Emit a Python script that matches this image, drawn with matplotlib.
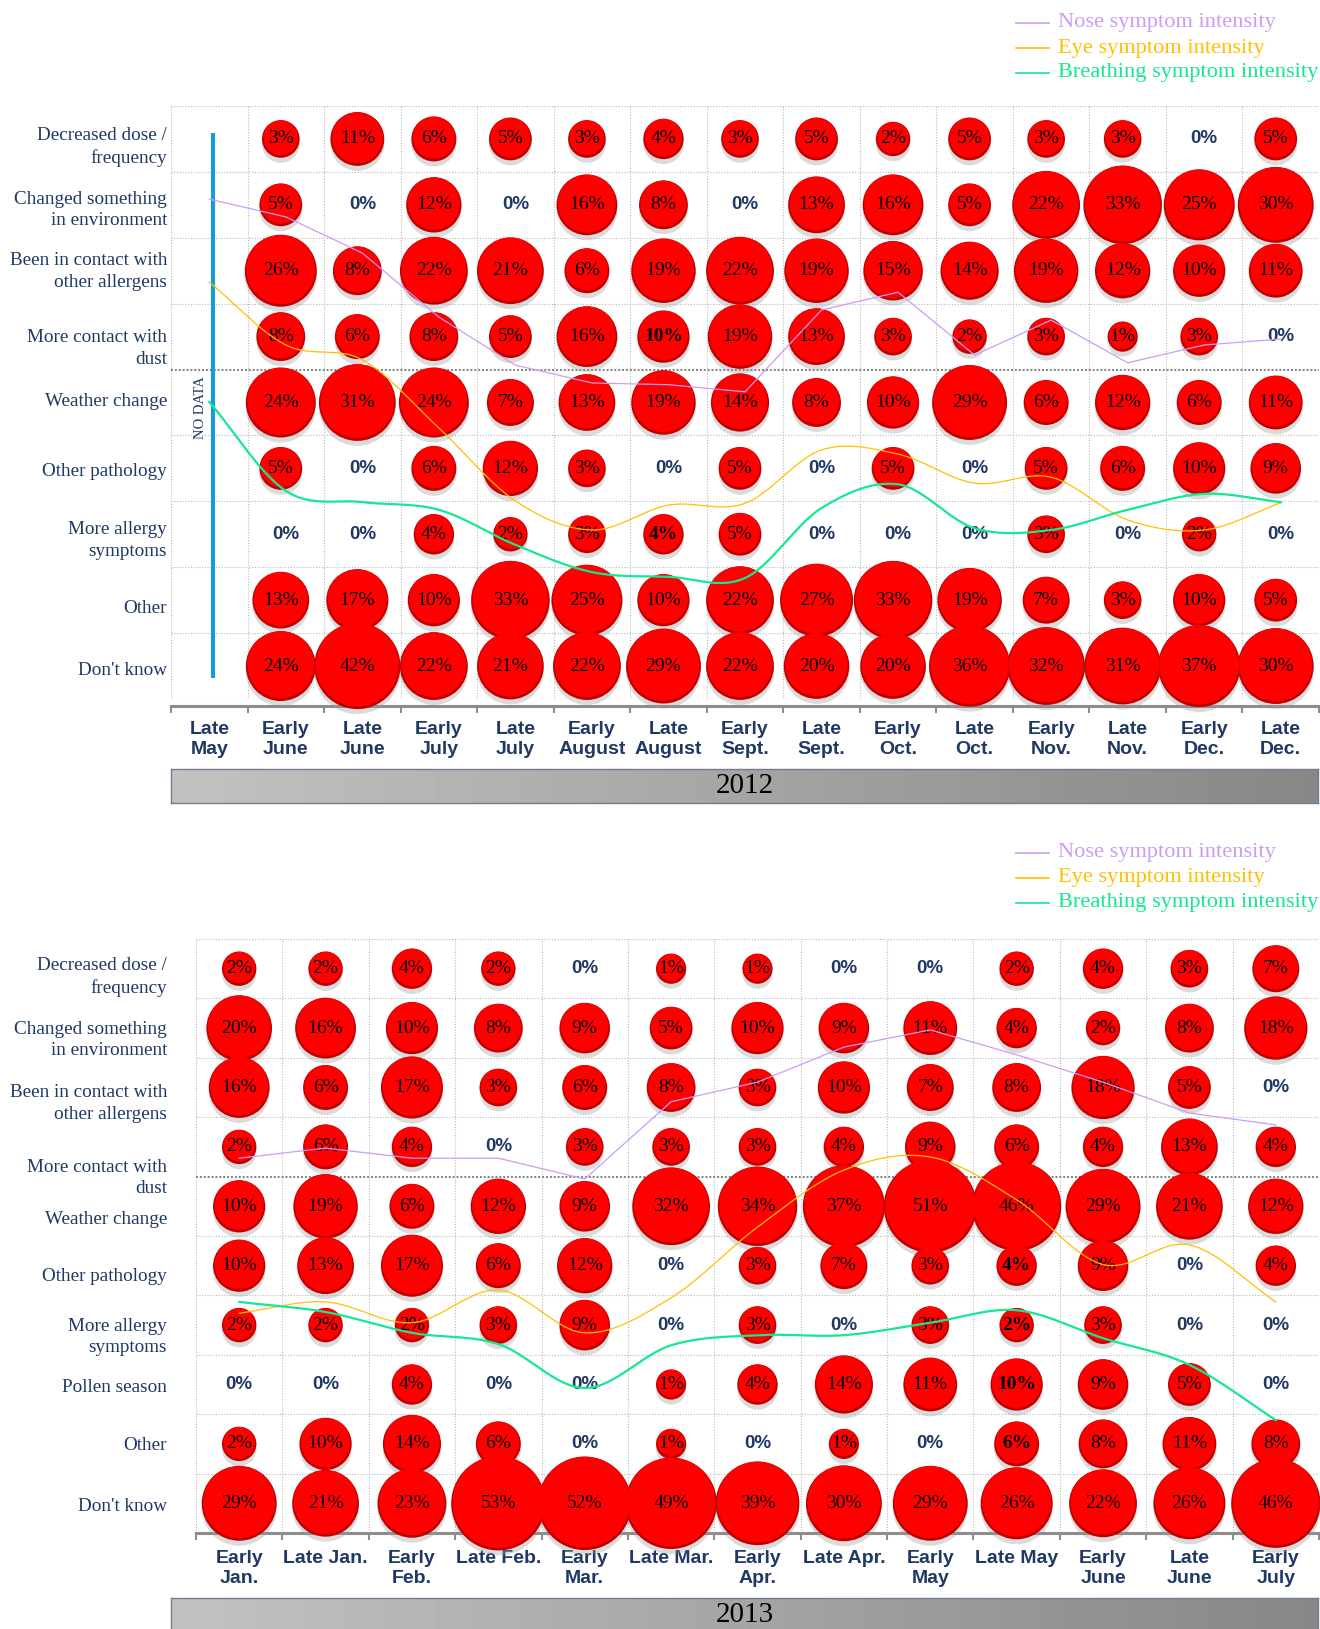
import matplotlib
matplotlib.use('Agg')
import matplotlib.pyplot as plt
import matplotlib.transforms as mtransforms
from matplotlib.lines import Line2D
import numpy as np

nan = np.nan

# ---- 2012 ----
months12 = ['Late\nMay', 'Early\nJune', 'Late\nJune', 'Early\nJuly', 'Late\nJuly',
            'Early\nAugust', 'Late\nAugust', 'Early\nSept.', 'Late\nSept.', 'Early\nOct.',
            'Late\nOct.', 'Early\nNov.', 'Late\nNov.', 'Early\nDec.', 'Late\nDec.']
reasons12 = ['Decreased dose /\nfrequency', 'Changed something\nin environment',
             'Been in contact with\nother allergens', 'More contact with\ndust',
             'Weather change', 'Other pathology', 'More allergy\nsymptoms', 'Other',
             "Don't know"]
dose12 = [nan, 3, 11, 6, 5, 3, 4, 3, 5, 2, 5, 3, 3, 0, 5]
environment12 = [nan, 5, 0, 12, 0, 16, 8, 0, 13, 16, 5, 22, 33, 25, 30]
allergens12 = [nan, 26, 8, 22, 21, 6, 19, 22, 19, 15, 14, 19, 12, 10, 11]
dust12 = [nan, 8, 6, 8, 5, 16, 10, 19, 13, 3, 2, 3, 1, 3, 0]
weather12 = [nan, 24, 31, 24, 7, 13, 19, 14, 8, 10, 29, 6, 12, 6, 11]
pathology12 = [nan, 5, 0, 6, 12, 3, 0, 5, 0, 5, 0, 5, 6, 10, 9]
symptoms12 = [nan, 0, 0, 4, 2, 3, 4, 5, 0, 0, 0, 3, 0, 2, 0]
other12 = [nan, 13, 17, 10, 33, 25, 10, 22, 27, 33, 19, 7, 3, 10, 5]
dontknow12 = [nan, 24, 42, 22, 21, 22, 29, 22, 20, 20, 36, 32, 31, 37, 30]
bold12 = [(3, 6), (6, 6)]
# symptom intensity (relative index, 0-100 over the grid height)
nose12 = [84.3, 81.3, 75.2, 64.4, 56.3, 53.3, 53.0, 51.8, 65.6, 68.6, 58.0, 63.9, 56.7, 59.7, 60.7]
eye12 = [70.3, 59.7, 57.2, 45.7, 33.4, 28.5, 32.7, 33.0, 42.0, 41.3, 36.4, 37.4, 30.2, 28.5, 33.1]
breath12 = [50.1, 35.1, 33.2, 31.9, 26.0, 21.4, 20.6, 20.4, 32.2, 36.2, 28.8, 28.5, 31.9, 34.6, 33.2]

# ---- 2013 ----
months13 = ['Early\nJan.', 'Late Jan.', 'Early\nFeb.', 'Late Feb.', 'Early\nMar.', 'Late Mar.',
            'Early\nApr.', 'Late Apr.', 'Early\nMay', 'Late May', 'Early\nJune', 'Late\nJune',
            'Early\nJuly']
reasons13 = ['Decreased dose /\nfrequency', 'Changed something\nin environment',
             'Been in contact with\nother allergens', 'More contact with\ndust',
             'Weather change', 'Other pathology', 'More allergy\nsymptoms', 'Pollen season',
             'Other', "Don't know"]
dose13 = [2, 2, 4, 2, 0, 1, 1, 0, 0, 2, 4, 3, 7]
environment13 = [20, 16, 10, 8, 9, 5, 10, 9, 11, 4, 2, 8, 18]
allergens13 = [16, 6, 17, 3, 6, 8, 3, 10, 7, 8, 18, 5, 0]
dust13 = [2, 6, 4, 0, 3, 3, 3, 4, 9, 6, 4, 13, 4]
weather13 = [10, 19, 6, 12, 9, 32, 34, 37, 51, 46, 29, 21, 12]
pathology13 = [10, 13, 17, 6, 12, 0, 3, 7, 3, 4, 9, 0, 4]
symptoms13 = [2, 2, 2, 3, 9, 0, 3, 0, 3, 2, 3, 0, 0]
pollen13 = [0, 0, 4, 0, 0, 1, 4, 14, 11, 10, 9, 5, 0]
other13 = [2, 10, 14, 6, 0, 1, 0, 1, 0, 6, 8, 11, 8]
dontknow13 = [29, 21, 23, 53, 52, 49, 39, 30, 29, 26, 22, 26, 46]
bold13 = [(5, 9), (6, 9), (7, 9), (8, 9)]
nose13 = [63.1, 64.8, 63.1, 63.1, 59.6, 72.6, 75.9, 81.8, 84.7, 80.5, 75.9, 70.7, 68.7]
eye13 = [37.0, 38.9, 35.4, 40.9, 33.7, 39.6, 51.5, 61.1, 63.3, 56.1, 45.2, 48.5, 38.9]
breath13 = [38.9, 37.2, 33.7, 31.8, 24.4, 31.6, 33.3, 33.3, 35.4, 37.5, 32.8, 28.3, 19.0]

series_names = ['Nose symptom intensity', 'Eye symptom intensity', 'Breathing symptom intensity']
series_colors = ['#cc9cf5', '#ffc000', '#14e890']

NAVY = '#1f3864'
W, H = 1320, 1629
fig = plt.figure(figsize=(W / 100, H / 100), dpi=100)


def px_off(dx, dy):
    return mtransforms.ScaledTranslation(dx / 100, -dy / 100, fig.dpi_scale_trans)


def smooth(xs, ys, n=30):
    x = np.asarray(xs, float)
    y = np.asarray(ys, float)
    px = np.concatenate([[2 * x[0] - x[1]], x, [2 * x[-1] - x[-2]]])
    py = np.concatenate([[2 * y[0] - y[1]], y, [2 * y[-1] - y[-2]]])
    t = np.linspace(0, 1, n, endpoint=False)
    ox, oy = [], []
    for i in range(1, len(px) - 2):
        for p, o in ((px, ox), (py, oy)):
            p0, p1, p2, p3 = p[i - 1], p[i], p[i + 1], p[i + 2]
            o.extend(0.5 * (2 * p1 + (-p0 + p2) * t + (2 * p0 - 5 * p1 + 4 * p2 - p3) * t ** 2
                            + (-p0 + 3 * p1 - 3 * p2 + p3) * t ** 3))
    ox.append(x[-1])
    oy.append(y[-1])
    return np.array(ox), np.array(oy)


def panel(left, top, right, bottom, months, reasons, grid, bold, nose, eye, breath,
          nudges, spine_out, pad, bdx):
    ax = fig.add_axes([left / W, 1 - bottom / H, (right - left) / W, (bottom - top) / H])
    ncol, nrow = len(months), len(reasons)
    ax.set_xlim(-0.5, ncol - 0.5)
    ax.set_ylim(nrow - 0.5, -0.5)
    for s in ['top', 'right', 'left']:
        ax.spines[s].set_visible(False)
    ax.spines['bottom'].set_color('#8c8c8c')
    ax.spines['bottom'].set_linewidth(2.2)
    ax.spines['bottom'].set_position(('outward', spine_out))

    for b in np.arange(-0.5, ncol - 0.5):
        ax.axvline(b, color='#b8b8b8', lw=0.8, ls=(0, (1, 1.5)), zorder=1)
    for b in np.arange(-0.5, nrow + 0.5):
        if b == 3.5:
            ax.axhline(b, color='#808080', lw=1.4, ls=(0, (1, 1)), zorder=1)
        else:
            ax.axhline(b, color='#b8b8b8', lw=0.8, ls=(0, (1, 1.5)), zorder=1)

    ax.set_xticks(np.arange(-0.5, ncol), [''] * (ncol + 1))
    ax.set_xticks(np.arange(ncol), months, minor=True)
    ax.tick_params(which='major', direction='out', length=5, width=1.5, color='#8c8c8c')
    ax.tick_params(which='minor', length=0, pad=pad)
    for lab in ax.get_xticklabels(minor=True):
        lab.set_fontfamily('Liberation Sans')
        lab.set_fontweight('bold')
        lab.set_fontsize(14)
        lab.set_color(NAVY)
        lab.set_linespacing(1.25)
    ax.set_yticks([])

    lab_x = (167 - left) / (right - left)
    tr = mtransforms.blended_transform_factory(ax.transAxes, ax.transData)
    for i, r in enumerate(reasons):
        ax.text(lab_x, i, r, transform=tr + px_off(0, nudges[i]), ha='right', va='center',
                fontfamily='Liberation Serif', fontsize=13.8, color=NAVY, linespacing=1.35)

    bt = ax.transData + px_off(bdx, 0)
    xs, ys, ss = [], [], []
    for i, row in enumerate(grid):
        for j, v in enumerate(row):
            if np.isnan(v):
                continue
            if v == 0:
                ax.text(j, i, '0%', ha='center', va='center', fontfamily='Liberation Sans',
                        fontweight='bold', fontsize=13.5, color=NAVY, zorder=4)
                continue
            d = 20 + 10.2 * np.sqrt(v)
            xs.append(j)
            ys.append(i)
            ss.append(d)
            ax.text(j, i, '%d%%' % v, ha='center', va='center', fontfamily='Liberation Serif',
                    fontsize=14, color='black', zorder=4, transform=bt,
                    fontweight='bold' if (i, j) in bold else 'normal')
    ss = np.array(ss)
    ax.scatter(xs, ys, s=(ss * 0.72) ** 2, color='#9a9a9a', alpha=0.35, lw=0,
               transform=ax.transData + px_off(bdx, 5), clip_on=False, zorder=2.6)
    ax.scatter(xs, ys, s=(ss * 0.72) ** 2, color='#c00000', lw=0, transform=bt,
               clip_on=False, zorder=2.8)
    ax.scatter(xs, ys, s=((ss - 3) * 0.72) ** 2, color='#ff0000', lw=0,
               transform=ax.transData + px_off(bdx, -1.2), clip_on=False, zorder=2.9)

    tw = ax.twinx()
    tw.set_ylim(0, 100)
    tw.axis('off')
    cx = np.arange(ncol)
    tw.plot(cx, nose, color=series_colors[0], lw=0.9, clip_on=False)
    sx, sy = smooth(cx, eye)
    tw.plot(sx, sy, color=series_colors[1], lw=0.9, clip_on=False)
    sx, sy = smooth(cx, breath)
    tw.plot(sx, sy, color=series_colors[2], lw=1.6, clip_on=False)
    return ax


def legend(y0):
    for k, (name, col) in enumerate(zip(series_names, series_colors)):
        yy = 1 - (y0 + 25 * k) / H
        fig.add_artist(Line2D([1016 / W, 1049 / W], [yy, yy], color=col, lw=1.2))
        fig.text(1058 / W, yy, name, va='center', ha='left', color=col,
                 fontfamily='Liberation Serif', fontsize=16.1)


def year_bar(top, bottom, year):
    bax = fig.add_axes([171 / W, 1 - bottom / H, (1318 - 171) / W, (bottom - top) / H])
    grad = np.linspace(0.76, 0.53, 256)[None, :]
    bax.imshow(grad, cmap='gray', vmin=0, vmax=1, aspect='auto', extent=[0, 1, 0, 1])
    bax.set_xticks([])
    bax.set_yticks([])
    for s in bax.spines.values():
        s.set_color('#6f7f90')
        s.set_linewidth(1)
    bax.text(0.5, 0.5, year, ha='center', va='center', fontfamily='Liberation Serif',
             fontsize=21, color='black', transform=bax.transAxes)


grid12 = np.array([dose12, environment12, allergens12, dust12, weather12, pathology12,
                   symptoms12, other12, dontknow12], dtype=float)
ax1 = panel(171, 106, 1319, 699, months12, reasons12, grid12, bold12, nose12, eye12, breath12,
            [8, 5, 1, 12, -1, 3, 6, 8, 4], 5, 10.5, -5)
ax1.plot([0.05, 0.05], [-0.09, 8.18], color='#1a9bd7', lw=3, solid_capstyle='butt', zorder=5)
ax1.text(-0.11, 4.08, 'NO DATA', rotation=90, ha='center', va='center',
         fontfamily='Liberation Serif', fontsize=10.5, color=NAVY)
legend(23)
year_bar(769, 803, '2012')

grid13 = np.array([dose13, environment13, allergens13, dust13, weather13, pathology13,
                   symptoms13, pollen13, other13, dontknow13], dtype=float)
panel(196, 939, 1319, 1533, months13, reasons13, grid13, bold13, nose13, eye13, breath13,
      [8, 12, 16, 31, 13, 11, 12, 3, 2, 3], 0, 12, 0)
legend(853)
year_bar(1598, 1632, '2013')

fig.savefig('out.png', dpi=100)
